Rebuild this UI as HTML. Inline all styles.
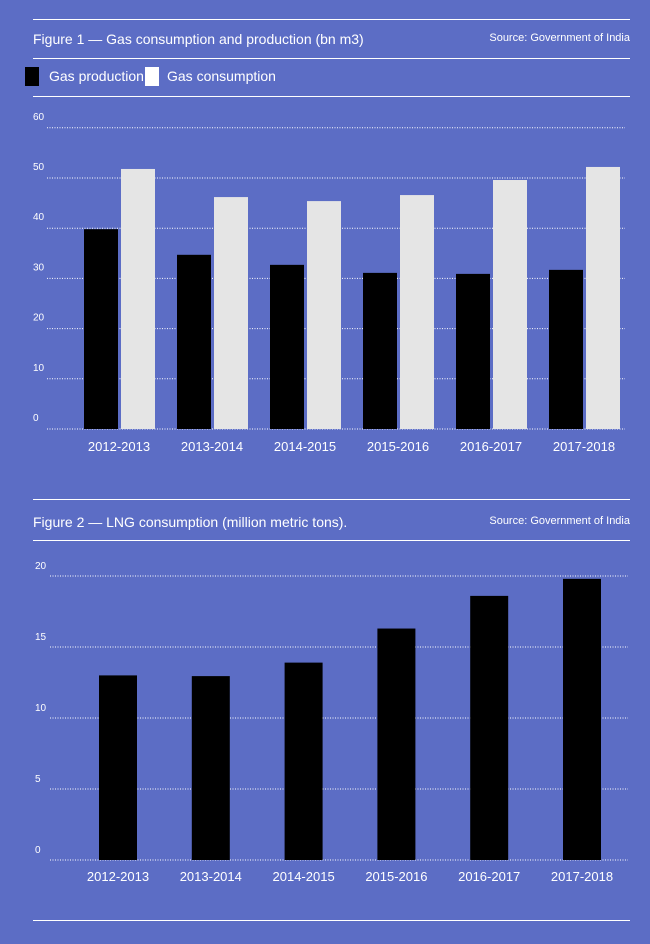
<!DOCTYPE html>
<html><head><meta charset="utf-8"><style>
html,body{margin:0;padding:0;background:#5c6dc5;}
body{width:650px;height:944px;position:relative;overflow:hidden;font-family:"Liberation Sans",sans-serif;color:#fff;}
.hl{position:absolute;left:33px;width:597px;height:1px;background:#fff;}
.t{position:absolute;font-size:14px;}
.src{position:absolute;right:20px;font-size:11px;}
svg{position:absolute;left:0;top:0;}
</style></head><body>
<div class="hl" style="top:19px"></div>
<div class="t" style="left:33px;top:31px">Figure 1 — Gas consumption and production (bn m3)</div>
<div class="src" style="top:32px">Source: Government of India</div>
<div class="hl" style="top:58px"></div>
<div style="position:absolute;left:25px;top:67px;width:14px;height:19px;background:#000"></div>
<div class="t" style="left:49px;top:68px">Gas production</div>
<div style="position:absolute;left:145px;top:67px;width:14px;height:19px;background:#fff"></div>
<div class="t" style="left:167px;top:68px">Gas consumption</div>
<div class="hl" style="top:96px"></div>
<div class="hl" style="top:499px"></div>
<div class="t" style="left:33px;top:514px">Figure 2 — LNG consumption (million metric tons).</div>
<div class="src" style="top:515px">Source: Government of India</div>
<div class="hl" style="top:540px"></div>
<div class="hl" style="top:920px"></div>
<svg id="c" width="650" height="944"></svg>
<script>
const categories=["2012-2013","2013-2014","2014-2015","2015-2016","2016-2017","2017-2018"];
const production=[39.8,34.7,32.7,31.1,30.9,31.7];
const consumption=[51.8,46.2,45.4,46.6,49.6,52.2];
const lng=[13.0,12.95,13.9,16.3,18.6,19.8];
const ticks1=[0,10,20,30,40,50,60];
const ticks2=[0,5,10,15,20];
const svg=document.getElementById('c');
const NS='http://www.w3.org/2000/svg';
function mk(t,a){const e=document.createElementNS(NS,t);for(const k in a)e.setAttribute(k,a[k]);svg.appendChild(e);return e;}
const y1=v=>429-v*5.02, y2=v=>860-v*14.2;
const x1=i=>84+i*93, x2=i=>99+i*92.8;
ticks1.forEach(v=>{
 const l=mk('line',{x1:47,x2:625,y1:y1(v),y2:y1(v),stroke:'#fff','stroke-width':1,'stroke-dasharray':'1 1.5'});
 
 
 const t=mk('text',{x:33,y:y1(v)-8,fill:'#fff','font-size':10,'font-family':'Liberation Sans'});t.textContent=v;
 
 
});
categories.forEach((c,i)=>{
 const b=mk('rect',{x:x1(i),y:y1(production[i]),width:34,height:y1(0)-y1(production[i]),fill:'#000'});
 
 
 const w=mk('rect',{x:x1(i)+37,y:y1(consumption[i]),width:34,height:y1(0)-y1(consumption[i]),fill:'#e5e5e5'});
 
 
 const t=mk('text',{x:x1(i)+35,y:451,fill:'#fff','font-size':13,'text-anchor':'middle','font-family':'Liberation Sans'});t.textContent=c;
 
 
});
ticks2.forEach(v=>{
 const l=mk('line',{x1:50,x2:628,y1:y2(v),y2:y2(v),stroke:'#fff','stroke-width':1,'stroke-dasharray':'1 1.5'});
 
 
 const t=mk('text',{x:35,y:y2(v)-7,fill:'#fff','font-size':10,'font-family':'Liberation Sans'});t.textContent=v;
 
 
});
categories.forEach((c,i)=>{
 const b=mk('rect',{x:x2(i),y:y2(lng[i]),width:38,height:y2(0)-y2(lng[i]),fill:'#000'});
 
 
 const t=mk('text',{x:x2(i)+19,y:881,fill:'#fff','font-size':13,'text-anchor':'middle','font-family':'Liberation Sans'});t.textContent=c;
 
 
});
</script>
</body></html>
